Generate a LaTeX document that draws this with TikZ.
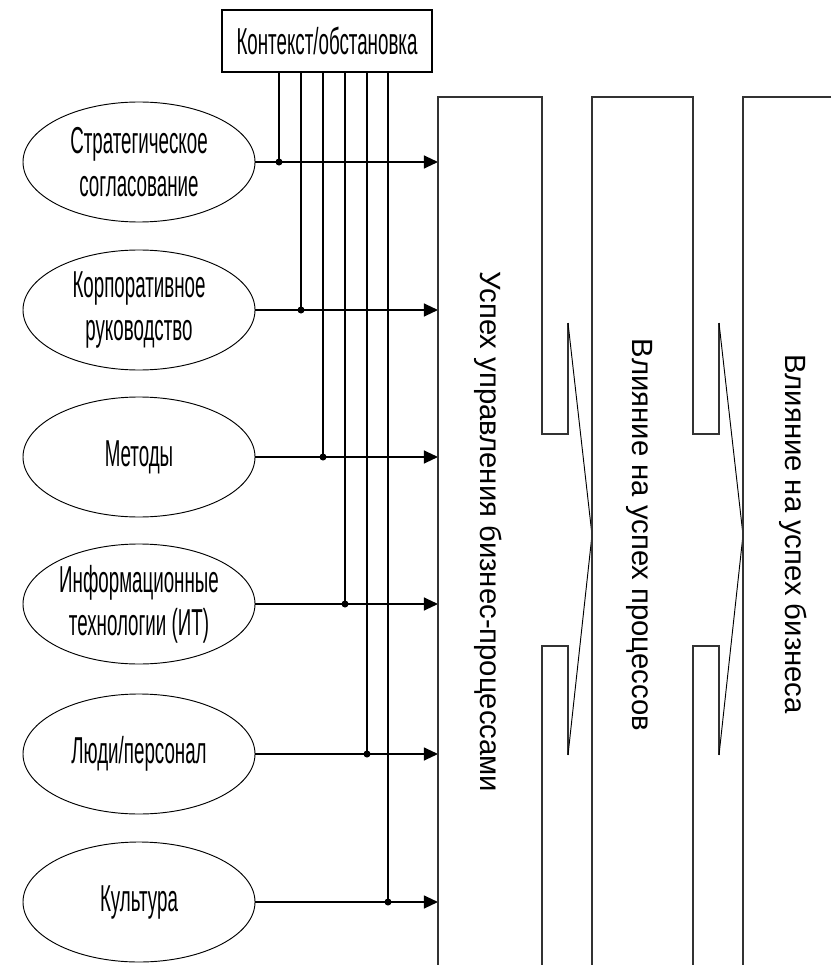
\documentclass[tikz,border=0pt]{standalone}
\usepackage{fontspec}
\setmainfont{Liberation Sans}
\newfontfamily\narrowfont[FakeStretch=0.5]{Liberation Sans}
\usetikzlibrary{arrows.meta,shapes.geometric}

\begin{document}
\begin{tikzpicture}[x=0.03cm,y=-0.03cm,
  factor/.style={ellipse, draw, line width=0.8pt, inner sep=0pt,
    minimum width=6.96cm, minimum height=3.6cm, align=center,
    font=\narrowfont\fontsize{32}{37}\selectfont},
  ctxbox/.style={draw, line width=0.9pt, inner sep=0pt,
    minimum width=6.3cm, minimum height=1.86cm,
    font=\narrowfont\fontsize{32}{37}\selectfont},
  conn/.style={line width=1.3pt},
  feed/.style={conn, -{Triangle[length=12pt,width=11pt]}},
  stage/.style={line width=1pt, draw=black!80},
  chevron/.style={line width=0.8pt},
  vlabel/.style={rotate=-90, font=\fontsize{25}{30}\selectfont},
  joint/.style={circle, fill, inner sep=0pt, minimum size=6pt}]

\useasboundingbox (0,0) rectangle (831,965);

% context box with its six feeder lines
\node[ctxbox] (ctx) at (327,41) {Контекст/обстановка};

% contributing factors
\node[factor] (e1) at (139,162) {Стратегическое\\согласование};
\node[factor] (e2) at (139,310) {Корпоративное\\руководство};
\node[factor] (e3) at (139,457) {Методы};
\node[factor] (e4) at (139,604) {Информационные\\технологии (ИТ)};
\node[factor] (e5) at (139,754) {Люди/персонал};
\node[factor] (e6) at (139,902) {Культура};

% junctions and arrow targets on the first stage
\foreach \i/\x/\y in {1/279/162, 2/301/310, 3/323/457, 4/345/604, 5/367/754, 6/388/902}{
  \coordinate (j\i) at (\x,\y);
  \coordinate (t\i) at (438,\y);
  \draw[feed] (e\i.east) -- (t\i);
  \draw[conn] (j\i |- ctx.south) -- (j\i);
  \node[joint] at (j\i) {};
}

% stage 1: business process management success
\draw[stage] (542,965) -- (542,646) -- (568,646) -- (568,755)
             (568,323) -- (568,434) -- (542,434) -- (542,97) -- (438,97) -- (438,965);
\draw[chevron] (568,323) -- (592,535) -- (568,755);
% stage 2: impact on process success
\draw[stage] (693,965) -- (693,646) -- (719,646) -- (719,755)
             (719,323) -- (719,434) -- (693,434) -- (693,97) -- (592,97) -- (592,965);
\draw[chevron] (719,323) -- (743,535) -- (719,755);
% stage 3: impact on business success
\draw[stage] (831,97) -- (743,97) -- (743,965);

\node[vlabel] (s1) at (488,532) {Успех управления бизнес-процессами};
\node[vlabel] (s2) at (640,535) {Влияние на успех процессов};
\node[vlabel] (s3) at (793,534) {Влияние на успех бизнеса};
\end{tikzpicture}
\end{document}
